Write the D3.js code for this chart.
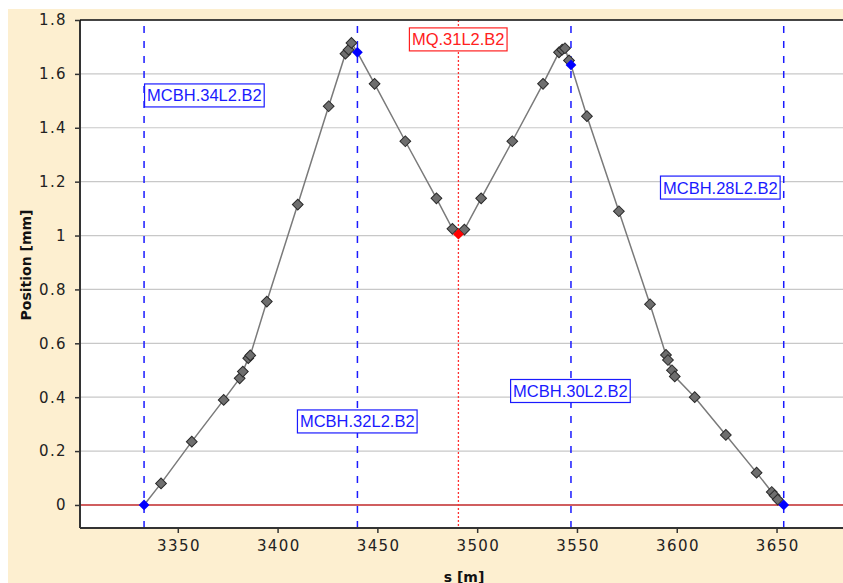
<!DOCTYPE html>
<html><head><meta charset="utf-8">
<script src="https://cdn.jsdelivr.net/npm/d3@7"></script>
<style>body{margin:0;background:#fff}svg{display:block}</style>
</head><body>
<script>
const sValues = [3333.1,3341.6,3357,3373,3381,3382.6,3385.3,3386.3,3394.6,3410.1,3425.6,3434,3435.6,3437,3440,3448.6,3464,3479.6,3487.6,3490.6,3493.6,3502,3517.6,3533,3541,3542.6,3544,3546,3547,3555,3571,3586.6,3594.6,3595.6,3597.6,3599,3609,3624.6,3640,3647.6,3649,3650.6,3653.6];
const posValues = [0,0.08,0.235,0.39,0.47,0.495,0.545,0.555,0.755,1.115,1.48,1.675,1.69,1.715,1.68,1.563,1.35,1.138,1.025,1.005,1.022,1.138,1.35,1.563,1.68,1.69,1.695,1.65,1.633,1.443,1.09,0.745,0.557,0.538,0.5,0.477,0.4,0.26,0.12,0.048,0.035,0.02,0];
const pointKind = sValues.map((s,i)=> (i===0||i===14||i===28||i===42)?"corrector":(i===19?"quad":"bpm"));
const correctorNames = ["MCBH.34L2.B2","MCBH.32L2.B2","MCBH.30L2.B2","MCBH.28L2.B2"];
const correctorS = [3333.1,3440,3547,3653.6];
const correctorLabelS = [3333.1,3409.7,3516.5,3591.6];
const correctorLabelPos = [1.52,0.31,0.423,1.178];
const quadNames = ["MQ.31L2.B2"];
const quadS = [3490.6];
const quadLabelS = [3465.8];
const quadLabelPos = [1.728];
const xTicks = [3350,3400,3450,3500,3550,3600,3650];
const yTicks = [0,0.2,0.4,0.6,0.8,1,1.2,1.4,1.6,1.8];

const W=843,H=583;
const svg=d3.select("body").append("svg").attr("width",W).attr("height",H);
svg.append("rect").attr("x",8).attr("y",9).attr("width",W-8).attr("height",H-9).attr("fill","#fdefd0");
const L=80,T=20,R=843,B=528;
const x=d3.scaleLinear().domain([3301,3683.3]).range([L,R]);
const y=d3.scaleLinear().domain([-0.0855,1.8]).range([B,T]);
svg.append("rect").attr("x",L).attr("y",T).attr("width",R-L).attr("height",B-T).attr("fill","#fff");
const font="DejaVu Sans, sans-serif";
// grid
svg.append("g").selectAll("line").data(yTicks.filter(d=>d!==0)).join("line")
 .attr("x1",L).attr("x2",R).attr("y1",d=>y(d)).attr("y2",d=>y(d)).attr("stroke","#c8c8c8").attr("stroke-width",1.2);
// zero line
svg.append("line").attr("x1",L).attr("x2",R).attr("y1",y(0)).attr("y2",y(0)).attr("stroke","#c0282a").attr("stroke-width",1.5);
// vertical markers
svg.append("g").selectAll("line").data(correctorS).join("line")
 .attr("x1",d=>x(d)).attr("x2",d=>x(d)).attr("y1",T+6).attr("y2",B).attr("stroke","#1a1aff").attr("stroke-width",1.5).attr("stroke-dasharray","7,8");
svg.append("g").selectAll("line").data(quadS).join("line")
 .attr("x1",d=>x(d)).attr("x2",d=>x(d)).attr("y1",T).attr("y2",B).attr("stroke","#ff3030").attr("stroke-width",1.3).attr("stroke-dasharray","2,2");
// line
svg.append("path").datum(sValues.map((s,i)=>[s,posValues[i]]))
 .attr("d",d3.line().x(d=>x(d[0])).y(d=>y(d[1]))).attr("fill","none").attr("stroke","#7a7a7a").attr("stroke-width",1.5);
// markers
const pts=sValues.map((s,i)=>({s,p:posValues[i],k:pointKind[i]}));
const order=pts.filter(d=>d.k==="bpm").concat(pts.filter(d=>d.k!=="bpm"));
svg.append("g").selectAll("path").data(order).join("path")
 .attr("transform",d=>`translate(${x(d.s)},${y(d.p)}) rotate(45)`)
 .attr("d","M-3.8,-3.8H3.8V3.8H-3.8Z")
 .attr("fill",d=>d.k==="bpm"?"#6e6e6e":(d.k==="quad"?"#ff0000":"#0000ff"))
 .attr("stroke",d=>d.k==="bpm"?"#2a2a2a":"none").attr("stroke-width",1);
// labels
function label(name,sx,py,col){
  const g=svg.append("g");
  const t=g.append("text").attr("x",x(sx)+3).attr("y",y(py)).attr("dy","0.36em")
   .attr("font-family","Liberation Sans, Arial, sans-serif").attr("font-size",16.5).attr("fill",col).text(name);
  const bb=t.node().getBBox();
  g.insert("rect","text").attr("x",x(sx)+0.5).attr("y",y(py)-11.5).attr("width",bb.width+5).attr("height",23)
   .attr("fill","#fff").attr("stroke",col).attr("stroke-width",1.2);
}
correctorNames.forEach((n,i)=>label(n,correctorLabelS[i],correctorLabelPos[i],"#1a1aff"));
quadNames.forEach((n,i)=>label(n,quadLabelS[i],quadLabelPos[i],"#ff2020"));
// axes
const ya=svg.append("g").attr("transform",`translate(${L},0)`).call(d3.axisLeft(y).tickValues(yTicks).tickFormat(d3.format("~g")).tickSize(5).tickPadding(8));
const xa=svg.append("g").attr("transform",`translate(0,${B})`).call(d3.axisBottom(x).tickValues(xTicks).tickFormat(d3.format("d")).tickSize(5).tickPadding(7));
[ya,xa].forEach(a=>{a.selectAll("text").attr("font-family",font).attr("font-size",15).attr("letter-spacing",1.4).attr("fill","#222");
 a.selectAll("line").attr("stroke","#333").attr("stroke-width",1.5); a.select(".domain").remove();});
xa.selectAll("text").attr("dx","0.7");
svg.append("line").attr("x1",L).attr("x2",L).attr("y1",T).attr("y2",B).attr("stroke","#333").attr("stroke-width",2);
svg.append("line").attr("x1",L).attr("x2",R).attr("y1",B).attr("y2",B).attr("stroke","#333").attr("stroke-width",2);
svg.append("line").attr("x1",L).attr("x2",R).attr("y1",T).attr("y2",T).attr("stroke","#111").attr("stroke-width",1.5);
svg.append("text").attr("transform",`translate(31,265) rotate(-90)`).attr("text-anchor","middle")
 .attr("font-family",font).attr("font-size",14).attr("font-weight","bold").attr("fill","#111").text("Position [mm]");
svg.append("text").attr("x",464).attr("y",582).attr("text-anchor","middle")
 .attr("font-family",font).attr("font-size",14).attr("font-weight","bold").attr("fill","#111").text("s [m]");
</script>
</body></html>
